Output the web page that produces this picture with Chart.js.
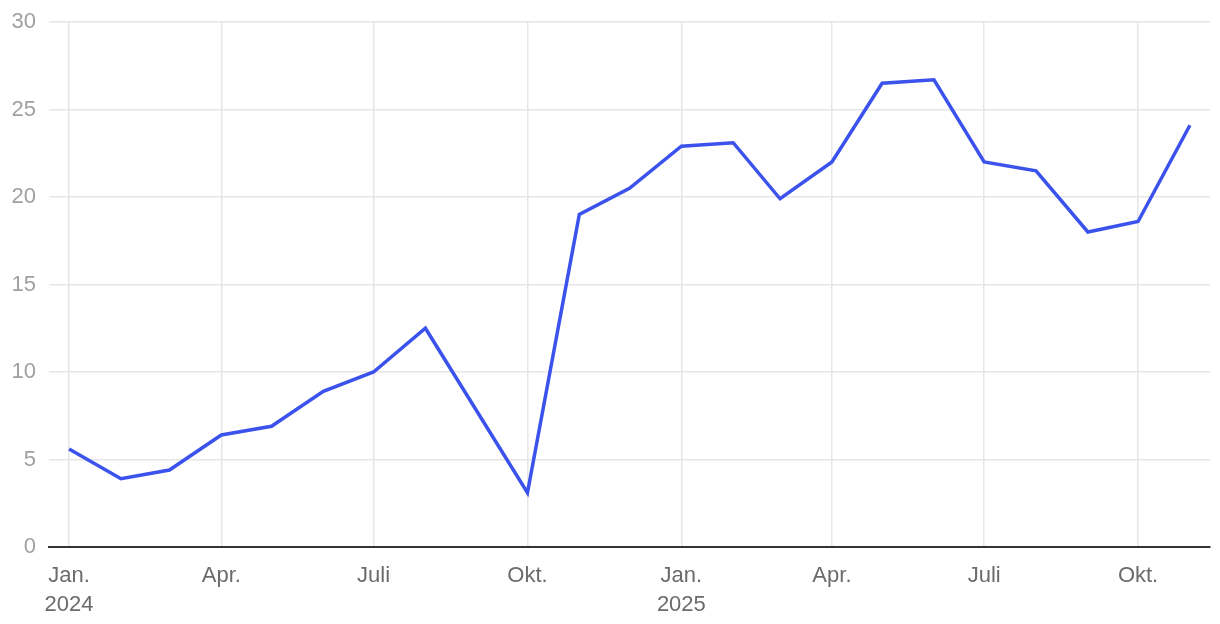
<!DOCTYPE html>
<html>
<head>
<meta charset="utf-8">
<script src="https://cdn.jsdelivr.net/npm/chart.js@4.4.1/dist/chart.umd.min.js"></script>
<style>
	html, body { margin: 0; padding: 0; background: #fff; }
	canvas { display: block; }
</style>
</head>
<body>
<canvas id="chart" width="1220" height="624"></canvas>
<script>
// Monthly values, Jan 2024 .. Nov 2025 (Sep 2024 has no value)
var months = [
	"2024-01", "2024-02", "2024-03", "2024-04", "2024-05", "2024-06",
	"2024-07", "2024-08", "2024-09", "2024-10", "2024-11", "2024-12",
	"2025-01", "2025-02", "2025-03", "2025-04", "2025-05", "2025-06",
	"2025-07", "2025-08", "2025-09", "2025-10", "2025-11"
];
var values = [
	5.6, 3.9, 4.4, 6.4, 6.9, 8.9,
	10.0, 12.5, null, 3.1, 19.0, 20.5,
	22.9, 23.1, 19.9, 22.0, 26.5, 26.7,
	22.0, 21.5, 18.0, 18.6, 24.1
];
// quarter ticks shown on the x axis
var tickMonths = ["2024-01", "2024-04", "2024-07", "2024-10", "2025-01", "2025-04", "2025-07", "2025-10"];
var monthNames = { "01": "Jan.", "04": "Apr.", "07": "Juli", "10": "Okt." };
var yTicks = [0, 5, 10, 15, 20, 25, 30];

var DAY = 86400000;
var origin = Date.UTC(2024, 0, 1);
function dayOf(m)
{
	var p = m.split("-");
	return (Date.UTC(+p[0], +p[1] - 1, 1) - origin) / DAY;
}

var points = months.map(function (m, i) { return { x: dayOf(m), y: values[i] }; });
var tickDays = tickMonths.map(dayOf);

var family = "Helvetica, 'Liberation Sans', Arial, sans-serif";

new Chart(document.getElementById("chart").getContext("2d"), {
	type: 'line',
	data: {
		datasets: [{
			data: points,
			borderColor: '#3b52ec',
			borderWidth: 3.5,
			pointRadius: 0,
			tension: 0,
			spanGaps: true,
			fill: false
		}]
	},
	options: {
		responsive: false,
		animation: false,
		devicePixelRatio: 1,
		layout: { padding: { top: 22, right: 10, left: 0, bottom: 0 } },
		plugins: { legend: { display: false }, tooltip: { enabled: false } },
		scales: {
			x: {
				type: 'linear',
				min: dayOf("2024-01") - 12,
				max: dayOf("2025-11") + 12,
				afterBuildTicks: function (axis)
				{
					axis.ticks = tickDays.map(function (d) { return { value: d }; });
				},
				afterFit: function (axis) { axis.height = 77; },
				ticks: {
					autoSkip: false,
					maxRotation: 0,
					color: '#6b6b6b',
					font: { family: family, size: 22, lineHeight: 1.32 },
					padding: 14,
					callback: function (v)
					{
						var m = tickMonths[tickDays.indexOf(v)];
						if (!m) return '';
						var parts = m.split("-");
						var name = monthNames[parts[1]];
						return parts[1] === "01" ? [name, parts[0]] : name;
					}
				},
				grid: { color: '#e6e6e6', lineWidth: 1.5, drawTicks: false },
				border: { color: '#333333', width: 2 }
			},
			y: {
				min: 0,
				max: 30,
				afterBuildTicks: function (axis)
				{
					axis.ticks = yTicks.map(function (v) { return { value: v }; });
				},
				afterFit: function (axis)
				{
					axis.width = 49;
					axis.paddingTop = 0;
					axis.paddingBottom = 0;
				},
				ticks: { autoSkip: false, color: '#a0a0a0', font: { family: family, size: 22 }, padding: 13 },
				grid: { color: '#e6e6e6', lineWidth: 1.5, drawTicks: false },
				border: { display: false }
			}
		}
	}
});
</script>
</body>
</html>
